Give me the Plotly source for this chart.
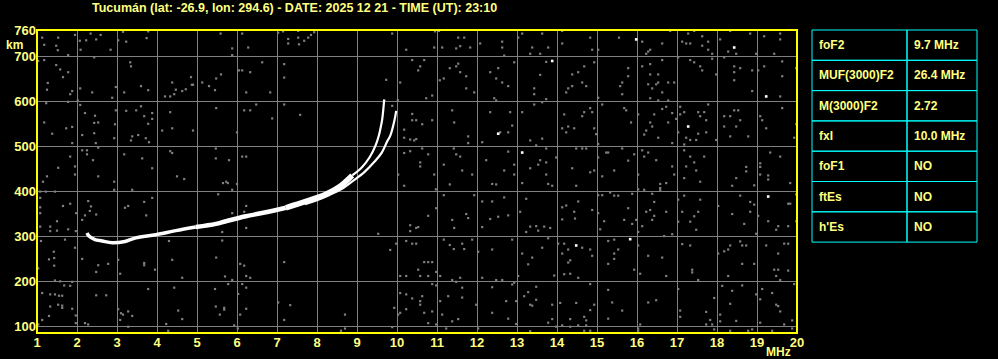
import plotly.graph_objects as go

# ---------------- data ----------------
title_text = "Tucumán (lat: -26.9, lon: 294.6) - DATE: 2025 12 21 - TIME (UT): 23:10"

x_ticks = list(range(1, 21))
x_tick_labels = [str(v) for v in x_ticks]
y_ticks = [100, 200, 300, 400, 500, 600, 700, 760]
y_tick_labels = [str(v) for v in y_ticks]

# ordinary (O) trace, MHz / km
o_freq = [2.25, 2.3, 2.45, 2.63, 2.88, 3.2, 3.47, 3.97, 4.47, 4.97, 5.47, 5.72, 6.22, 6.72, 7.22, 7.72, 8.22, 8.55, 8.88]
o_km = [308, 301, 293, 290, 286, 289, 297, 304, 313, 321, 328, 334, 345, 354, 364, 378, 394, 410, 436]
o_top_freq = [8.88, 9.13, 9.32, 9.47, 9.55, 9.59, 9.63, 9.68]
o_top_km = [436, 455, 477, 504, 526, 542, 561, 605]

# extraordinary (X) trace
x_freq = [7.7, 8.0, 8.3, 8.6, 8.9, 9.19, 9.44, 9.62, 9.76, 9.83, 9.93, 9.98]
x_km = [372, 381, 392, 405, 424, 444, 467, 487, 513, 524, 556, 580]

# scattered interference dots (MHz, km)
noise_points = [
    (1.13, 743), (1.53, 743), (1.95, 749), (2.07, 736), (2.23, 737), (2.34, 752), (2.48, 739), (2.59, 749),
    (3.03, 737), (3.15, 756), (3.23, 734), (3.78, 757), (3.74, 742), (5.59, 752), (1.18, 727), (1.48, 725),
    (1.52, 715), (1.78, 704), (2.09, 716), (2.84, 716), (1.03, 691), (1.18, 693), (1.48, 682), (1.58, 672),
    (1.78, 666), (1.65, 655), (2.43, 699), (3.33, 688), (3.35, 679), (1.27, 642), (1.25, 627), (1.88, 624),
    (1.83, 617), (2.38, 621), (2.08, 630), (2.97, 633), (2.88, 609), (3.18, 621), (3.60, 635), (3.78, 626),
    (4.38, 643), (4.47, 627), (4.20, 612), (4.33, 612), (4.43, 617), (4.63, 624), (4.72, 628), (4.90, 638),
    (4.87, 638), (4.85, 655), (5.13, 643), (5.30, 635), (5.45, 626), (5.48, 652), (5.60, 661), (2.02, 603),
    (1.78, 600), (1.23, 597), (2.08, 593), (2.20, 575), (2.45, 569), (2.43, 553), (2.53, 554), (2.97, 581),
    (2.95, 550), (2.93, 519), (3.23, 580), (3.48, 581), (3.60, 590), (3.68, 568), (3.78, 551), (3.88, 575),
    (3.88, 562), (3.38, 523), (3.53, 526), (3.35, 514), (3.72, 519), (3.80, 510), (4.33, 577), (4.13, 536),
    (4.38, 541), (4.90, 536), (5.48, 586), (1.18, 554), (1.38, 529), (1.73, 541), (1.88, 544), (1.88, 508),
    (2.13, 526), (2.43, 530), (2.47, 508), (2.53, 498), (2.13, 492), (2.25, 483), (2.40, 470), (2.25, 492),
    (1.83, 478), (1.95, 456), (1.95, 438), (1.53, 453), (1.25, 434), (1.15, 422), (2.53, 434), (2.93, 422),
    (2.93, 404), (3.18, 483), (3.63, 474), (3.88, 452), (4.33, 490), (4.38, 486), (4.50, 434), (4.68, 428),
    (5.47, 496), (5.47, 474), (5.65, 419), (5.73, 422), (3.38, 404), (1.08, 400), (1.22, 400), (1.45, 400),
    (1.08, 386), (1.08, 365), (1.08, 352), (1.08, 322), (1.33, 322), (1.33, 312), (1.50, 334), (1.50, 313),
    (1.65, 368), (1.83, 373), (1.98, 352), (2.13, 337), (2.28, 379), (2.35, 367), (2.32, 357), (2.20, 347),
    (2.48, 349), (3.20, 364), (3.28, 368), (3.68, 377), (3.88, 386), (3.73, 347), (5.53, 394), (5.63, 310),
    (1.78, 316), (1.97, 312), (1.10, 290), (1.70, 293), (1.95, 275), (1.42, 266), (1.43, 252), (1.30, 249),
    (1.43, 235), (1.03, 229), (2.13, 250), (2.53, 236), (2.48, 221), (2.78, 239), (3.03, 248), (3.08, 217),
    (3.68, 241), (3.68, 236), (3.95, 226), (4.30, 290), (4.38, 248), (4.63, 208), (5.48, 253), (5.63, 291),
    (5.70, 211), (1.45, 202), (1.58, 200), (1.68, 191), (1.83, 190), (1.88, 199), (1.13, 174), (1.33, 171),
    (1.45, 171), (1.55, 168), (1.63, 168), (1.63, 141), (1.63, 146), (1.53, 148), (1.33, 144), (1.30, 123),
    (1.03, 104), (1.13, 114), (1.97, 124), (1.97, 107), (1.88, 139), (2.20, 107), (2.28, 104), (2.48, 169),
    (2.73, 169), (3.03, 138), (3.10, 129), (3.15, 126), (3.08, 114), (3.28, 133), (3.28, 99), (3.38, 123),
    (3.78, 183), (4.23, 105), (4.28, 90), (4.43, 186), (4.53, 135), (4.63, 116), (5.45, 183), (5.47, 144),
    (5.57, 126), (5.68, 141), (5.68, 137),
    (5.88, 719), (5.88, 704), (6.13, 752), (6.28, 721), (7.03, 754), (7.15, 757), (7.28, 740), (7.28, 730),
    (7.53, 758), (7.53, 743), (7.55, 728), (7.68, 736), (7.78, 743), (7.85, 749), (7.93, 755), (9.88, 752),
    (10.23, 716), (6.05, 670), (6.13, 670), (6.33, 666), (6.63, 688), (7.18, 684), (7.18, 654), (6.23, 621),
    (6.83, 621), (9.73, 649), (10.08, 643), (10.38, 693), (6.18, 581), (6.33, 581), (6.48, 594), (6.88, 563),
    (7.18, 594), (7.58, 571), (6.00, 532), (5.80, 470), (6.13, 478), (6.23, 478), (5.77, 419), (6.00, 417),
    (5.88, 404), (6.23, 368), (6.18, 355), (6.23, 319), (5.88, 352), (10.18, 538), (10.18, 520), (10.33, 516),
    (10.43, 514), (10.18, 486), (10.33, 490), (10.03, 438), (10.18, 413), (9.68, 603), (9.88, 591), (10.02, 604),
    (10.38, 573), (10.38, 559), (10.33, 325), (10.48, 319), (10.33, 312), (9.53, 306), (9.83, 270), (9.98, 284),
    (10.23, 290), (10.38, 284), (10.48, 284), (7.18, 243), (6.08, 239), (6.18, 235), (6.23, 212), (6.33, 208),
    (5.78, 194), (5.88, 203), (6.13, 194), (6.23, 186), (6.03, 172), (6.08, 126), (6.23, 139), (5.93, 102),
    (6.02, 95), (7.03, 153), (7.33, 147), (7.18, 114), (8.70, 126), (8.60, 90), (8.70, 95), (9.88, 98),
    (9.93, 141), (10.03, 126), (10.08, 174), (10.08, 130), (10.23, 171), (10.23, 138), (10.38, 162),
    (10.08, 212), (10.23, 212),
    (10.95, 757), (11.05, 758), (10.93, 721), (11.13, 721), (11.53, 743), (11.68, 743), (11.48, 719),
    (11.58, 724), (11.83, 721), (12.08, 730), (12.63, 734), (12.63, 721), (12.68, 703), (13.13, 752),
    (13.03, 743), (13.38, 721), (13.33, 707), (13.58, 707), (13.63, 752), (13.78, 721), (14.13, 758),
    (14.13, 730), (14.83, 743), (14.88, 716), (15.03, 716), (10.68, 693), (10.58, 679), (10.53, 670),
    (10.88, 614), (10.73, 608), (11.07, 648), (11.17, 652), (11.32, 675), (11.48, 679), (11.53, 685),
    (11.58, 666), (11.73, 657), (11.73, 630), (11.93, 621), (12.33, 666), (12.48, 652), (12.53, 675),
    (12.63, 643), (12.78, 635), (12.93, 688), (12.43, 608), (12.48, 603), (13.43, 630), (13.43, 617),
    (13.58, 660), (13.73, 689), (13.73, 606), (14.38, 661), (14.53, 666), (14.68, 679), (14.63, 643),
    (14.73, 635), (14.28, 630), (14.23, 621), (14.38, 635), (14.93, 688), (15.03, 609), (10.48, 559),
    (10.63, 550), (10.88, 559), (11.38, 581), (11.43, 554), (11.78, 523), (11.78, 508), (12.13, 510),
    (12.33, 577), (12.58, 532), (12.88, 547), (12.83, 577), (12.78, 532), (13.13, 577), (13.33, 514),
    (13.48, 503), (13.63, 518), (13.43, 594), (13.63, 599), (14.18, 572), (14.13, 541), (14.28, 545),
    (14.43, 541), (14.23, 532), (14.63, 568), (14.68, 577), (14.83, 586), (14.88, 577), (14.93, 541),
    (14.98, 528), (15.03, 506), (15.13, 594), (10.48, 517), (10.58, 465), (10.58, 456), (10.63, 496),
    (10.78, 483), (10.93, 438), (11.17, 460), (11.32, 416), (11.42, 496), (11.48, 483), (11.58, 478),
    (11.63, 447), (11.88, 438), (12.23, 470), (12.38, 417), (12.48, 416), (12.68, 447), (12.78, 489),
    (12.93, 460), (12.93, 438), (13.13, 419), (13.33, 452), (13.53, 460), (13.58, 470), (13.73, 465),
    (13.73, 438), (13.78, 417), (13.88, 413), (13.98, 476), (13.73, 496), (14.48, 496), (14.38, 452),
    (14.48, 413), (14.63, 496), (14.73, 496), (14.83, 443), (14.93, 447), (15.03, 476), (15.13, 434),
    (15.23, 487), (10.97, 405), (11.17, 392), (11.93, 392), (12.13, 378), (12.38, 378), (12.68, 387),
    (13.23, 384), (13.08, 355), (13.23, 310), (13.33, 322), (13.48, 323), (13.53, 313), (13.68, 322),
    (13.83, 319), (14.13, 365), (14.23, 369), (14.53, 378), (14.43, 355), (14.45, 340), (14.13, 338),
    (14.88, 359), (15.03, 352), (15.08, 316), (15.18, 334), (15.03, 392), (15.13, 392), (10.53, 321),
    (10.78, 346), (10.98, 363), (11.38, 337), (11.43, 319), (11.73, 350), (11.78, 341), (12.13, 321),
    (12.33, 339), (12.53, 344), (12.78, 347), (11.17, 293), (11.32, 281), (11.42, 272), (11.68, 272),
    (11.63, 284), (11.88, 293), (12.03, 266), (12.38, 271), (12.88, 293), (13.13, 262), (13.38, 253),
    (13.28, 238), (13.63, 275), (13.78, 296), (13.93, 213), (14.03, 284), (14.18, 284), (14.28, 271),
    (14.63, 275), (14.83, 271), (14.88, 257), (14.33, 247), (14.28, 242), (14.13, 262), (14.18, 216),
    (14.33, 217), (14.53, 208), (10.53, 226), (10.68, 243), (10.78, 243), (10.88, 243), (10.58, 212),
    (10.78, 212), (10.98, 221), (11.08, 212), (11.38, 203), (11.48, 199), (11.58, 208), (12.13, 208),
    (12.48, 203), (12.63, 203), (13.03, 212), (10.88, 194), (10.98, 191), (10.63, 167), (10.58, 156),
    (10.58, 148), (10.68, 130), (10.88, 133), (10.78, 107), (11.08, 156), (11.28, 167), (11.13, 126),
    (11.38, 111), (11.53, 116), (11.63, 186), (11.63, 164), (11.98, 148), (12.38, 187), (12.38, 130),
    (12.73, 156), (12.88, 193), (12.93, 197), (12.98, 156), (12.78, 117), (13.18, 167), (13.28, 176),
    (13.33, 148), (13.48, 188), (13.48, 159), (13.38, 146), (13.88, 148), (13.78, 108), (13.88, 116),
    (14.08, 152), (14.33, 116), (14.48, 152), (14.68, 121), (14.73, 113), (14.83, 136), (14.93, 148),
    (14.83, 194), (14.73, 102), (14.53, 102), (14.13, 102), (10.98, 104), (11.23, 95), (12.03, 95),
    (12.98, 105), (13.33, 89), (13.98, 99), (14.33, 99), (14.68, 90), (14.83, 90),
    (15.55, 743), (16.13, 734), (16.23, 707), (16.33, 716), (16.28, 712), (16.63, 730), (16.83, 758),
    (17.28, 752), (17.13, 734), (17.23, 730), (17.33, 730), (17.43, 758), (17.63, 746), (17.63, 725),
    (17.78, 734), (17.78, 716), (17.88, 707), (18.08, 739), (18.33, 758), (18.28, 712), (18.48, 707),
    (18.83, 752), (18.98, 707), (19.18, 746), (19.58, 752), (19.58, 739), (19.43, 707), (15.78, 675),
    (15.78, 657), (15.63, 643), (15.58, 635), (15.63, 617), (16.13, 679), (16.33, 684), (16.33, 661),
    (16.53, 661), (16.63, 693), (16.28, 639), (16.38, 630), (16.48, 639), (16.53, 643), (16.78, 643),
    (16.93, 643), (16.63, 621), (16.33, 608), (16.53, 603), (16.78, 603), (17.03, 699), (17.33, 693),
    (17.43, 688), (17.58, 679), (17.63, 670), (17.88, 696), (17.98, 661), (18.18, 699), (18.43, 679),
    (18.43, 666), (18.43, 648), (18.58, 675), (18.88, 670), (18.88, 624), (19.03, 670), (19.18, 679),
    (19.58, 612), (19.63, 690), (19.63, 657), (19.98, 675), (19.63, 586), (15.68, 586), (15.73, 581),
    (16.03, 572), (15.85, 554), (16.18, 527), (16.23, 536), (16.33, 554), (16.38, 545), (16.43, 572),
    (16.53, 520), (16.63, 584), (16.73, 589), (16.78, 554), (16.88, 575), (16.98, 562), (17.08, 589),
    (17.08, 572), (17.18, 577), (17.03, 532), (16.88, 508), (17.18, 505), (17.23, 520), (17.33, 515),
    (17.48, 515), (17.53, 577), (17.58, 568), (17.68, 577), (17.73, 559), (17.78, 594), (17.53, 529),
    (17.73, 532), (17.98, 515), (18.18, 568), (18.18, 545), (18.33, 568), (18.33, 523), (18.43, 581),
    (18.53, 581), (18.48, 545), (18.58, 559), (18.78, 523), (19.08, 568), (19.13, 559), (19.23, 541),
    (19.93, 520), (19.98, 550), (15.63, 496), (15.28, 487), (15.43, 447), (15.78, 469), (15.93, 483),
    (16.03, 438), (16.13, 492), (16.18, 478), (16.28, 487), (16.48, 470), (16.88, 456), (16.93, 438),
    (17.18, 492), (17.23, 456), (17.33, 478), (17.43, 465), (17.48, 447), (17.58, 422), (17.68, 478),
    (17.18, 430), (16.58, 417), (16.73, 419), (18.73, 455), (18.73, 445), (18.48, 430), (18.38, 413),
    (19.08, 463), (19.08, 455), (19.08, 438), (19.28, 436), (19.28, 427), (18.93, 414), (19.33, 487),
    (19.58, 478), (19.83, 419), (15.33, 398), (15.43, 391), (15.53, 391), (15.88, 395), (16.03, 405),
    (16.18, 404), (16.38, 395), (16.58, 408), (16.58, 403), (17.03, 382), (17.18, 391), (17.58, 382),
    (18.03, 368), (18.58, 391), (18.83, 377), (18.93, 371), (19.78, 373), (19.98, 394), (15.78, 363),
    (16.23, 355), (16.33, 359), (16.43, 377), (16.43, 346), (16.73, 355), (15.68, 337), (15.88, 328),
    (15.98, 337), (16.03, 310), (16.13, 323), (16.38, 337), (16.68, 301), (16.88, 305), (17.13, 355),
    (17.33, 333), (17.43, 345), (17.48, 315), (17.53, 355), (17.03, 333), (18.38, 350), (18.68, 328),
    (18.83, 355), (19.03, 346), (18.98, 306), (19.28, 334), (19.48, 315), (19.53, 323), (19.78, 323),
    (19.83, 373), (19.98, 334), (15.28, 290), (15.43, 293), (15.53, 271), (15.43, 262), (15.43, 250),
    (15.28, 239), (16.03, 280), (16.28, 257), (16.63, 253), (15.93, 226), (16.08, 217), (16.73, 212),
    (17.13, 283), (17.33, 280), (17.38, 226), (17.38, 220), (17.53, 203), (18.18, 267), (18.28, 271),
    (18.33, 280), (18.58, 289), (18.63, 280), (18.73, 280), (18.63, 239), (18.93, 239), (18.28, 212),
    (18.03, 262), (19.23, 280), (19.53, 262), (19.68, 284), (19.78, 284), (19.43, 226), (19.53, 226),
    (19.78, 224), (19.48, 212), (19.58, 203), (15.28, 181), (15.38, 153), (15.63, 135), (15.28, 117),
    (16.28, 153), (16.48, 158), (16.08, 104), (16.03, 95), (17.03, 183), (17.08, 135), (17.08, 121),
    (17.73, 132), (17.83, 114), (17.73, 104), (17.93, 163), (18.08, 126), (18.08, 111), (18.13, 190),
    (18.38, 179), (18.63, 191), (18.33, 150), (18.48, 112), (18.98, 171), (19.08, 160), (19.13, 183),
    (19.38, 174), (19.48, 148), (19.53, 145), (19.58, 133), (19.68, 104), (19.88, 113), (19.93, 194),
    (19.08, 108), (19.38, 90), (18.88, 93), (18.78, 90), (18.33, 90), (17.88, 104), (17.93, 93),
    (19.88, 95), (16.03, 90),
]
# bright (white) dots
white_points = [
    (15.98, 739), (18.43, 721), (19.23, 612), (17.28, 545), (15.83, 294), (19.28, 389),
    (13.88, 691), (12.53, 529), (13.13, 487), (14.48, 280),
]

table_names = ["foF2", "MUF(3000)F2", "M(3000)F2", "fxI", "foF1", "ftEs", "h'Es"]
table_values = ["9.7 MHz", "26.4 MHz", "2.72", "10.0 MHz", "NO", "NO", "NO"]

# ---------------- styling / layout ----------------
W, H = 998, 359
ML, MR, MT, MB = 37, 21, 30, 26
PW = W - ML - MR
PH = H - MT - MB
plot_right_px = 797
x_dom_end = (plot_right_px - ML) / PW

TXT = "#ffff80"
FONT = "Liberation Sans"
GRAY = "#808080"

fig = go.Figure()

fig.add_trace(go.Scatter(
    x=[p[0] for p in noise_points], y=[p[1] for p in noise_points], mode="markers",
    marker=dict(symbol="square", size=2.2, color=GRAY, line=dict(width=0)),
    hoverinfo="skip", showlegend=False))
fig.add_trace(go.Scatter(
    x=[p[0] for p in white_points], y=[p[1] for p in white_points], mode="markers",
    marker=dict(symbol="square", size=2.6, color="#ffffff", line=dict(width=0)),
    hoverinfo="skip", showlegend=False))
fig.add_trace(go.Scatter(x=x_freq, y=x_km, mode="lines",
                         line=dict(color="#ffffff", width=2.2, shape="spline"),
                         hoverinfo="skip", showlegend=False))

# O trace drawn in segments of growing thickness (echo widens with frequency)
segments = [(0, 10, 3.5), (9, 15, 4.5), (14, len(o_freq), 5.5)]
for a, b, w in segments:
    fig.add_trace(go.Scatter(x=o_freq[a:b], y=o_km[a:b], mode="lines",
                             line=dict(color="#ffffff", width=w, shape="spline"),
                             hoverinfo="skip", showlegend=False))
fig.add_trace(go.Scatter(x=o_top_freq, y=o_top_km, mode="lines",
                         line=dict(color="#ffffff", width=2.2, shape="spline"),
                         hoverinfo="skip", showlegend=False))

axis_font = dict(family=FONT, size=13, color=TXT, weight="bold")

fig.update_xaxes(range=[1, 20], domain=[0, x_dom_end], tickvals=x_ticks, ticktext=x_tick_labels,
                 showgrid=True, gridcolor=GRAY, gridwidth=1, zeroline=False, showline=False,
                 ticks="", tickfont=axis_font, automargin=False, fixedrange=True)
fig.update_yaxes(range=[85, 760], domain=[0, 1], tickvals=y_ticks, ticktext=y_tick_labels,
                 showgrid=True, gridcolor=GRAY, gridwidth=1, zeroline=False, showline=False,
                 ticks="", tickfont=axis_font, automargin=False, fixedrange=True)

shapes = [dict(type="rect", xref="x domain", yref="y domain", x0=0, x1=1, y0=0, y1=1,
               line=dict(color="#ffff00", width=2), layer="above")]

# parameter table
tx0 = (812 - ML) / PW
tx1 = (907 - ML) / PW
tx2 = (977 - ML) / PW
row_h = 0.1
ty_top = 1.0
n = len(table_names)
for i in range(n):
    y1 = ty_top - i * row_h
    y0 = y1 - row_h
    for xa, xb in ((tx0, tx1), (tx1, tx2)):
        shapes.append(dict(type="rect", xref="paper", yref="paper", x0=xa, x1=xb, y0=y0, y1=y1,
                           line=dict(color="#00ffff", width=1)))

annotations = [
    dict(text=title_text, xref="paper", yref="paper", x=(294 - ML) / PW, y=1 + (MT - 8) / PH,
         xanchor="center", yanchor="middle", showarrow=False,
         font=dict(family=FONT, size=12.5, color=TXT, weight="bold")),
    dict(text="km", xref="paper", yref="paper", x=(14 - ML) / PW, y=(333 - 45) / PH,
         xanchor="center", yanchor="middle", showarrow=False,
         font=dict(family=FONT, size=12, color=TXT, weight="bold")),
    dict(text="MHz", xref="paper", yref="paper", x=(778 - ML) / PW, y=(333 - 352) / PH,
         xanchor="center", yanchor="middle", showarrow=False,
         font=dict(family=FONT, size=12, color=TXT, weight="bold")),
]
for i in range(n):
    yc = ty_top - (i + 0.5) * row_h
    annotations.append(dict(text=table_names[i], xref="paper", yref="paper", x=(817 - ML) / PW, y=yc,
                            xanchor="left", yanchor="middle", showarrow=False,
                            font=dict(family=FONT, size=12, color=TXT, weight="bold")))
    annotations.append(dict(text=table_values[i], xref="paper", yref="paper", x=(912 - ML) / PW, y=yc,
                            xanchor="left", yanchor="middle", showarrow=False,
                            font=dict(family=FONT, size=12, color=TXT, weight="bold")))

fig.update_layout(
    width=W, height=H, margin=dict(l=ML, r=MR, t=MT, b=MB, pad=0, autoexpand=False),
    paper_bgcolor="#000000", plot_bgcolor="#000000",
    shapes=shapes, annotations=annotations, hovermode=False, showlegend=False,
)

fig.write_html("out.html", config={"displayModeBar": False, "staticPlot": True})
